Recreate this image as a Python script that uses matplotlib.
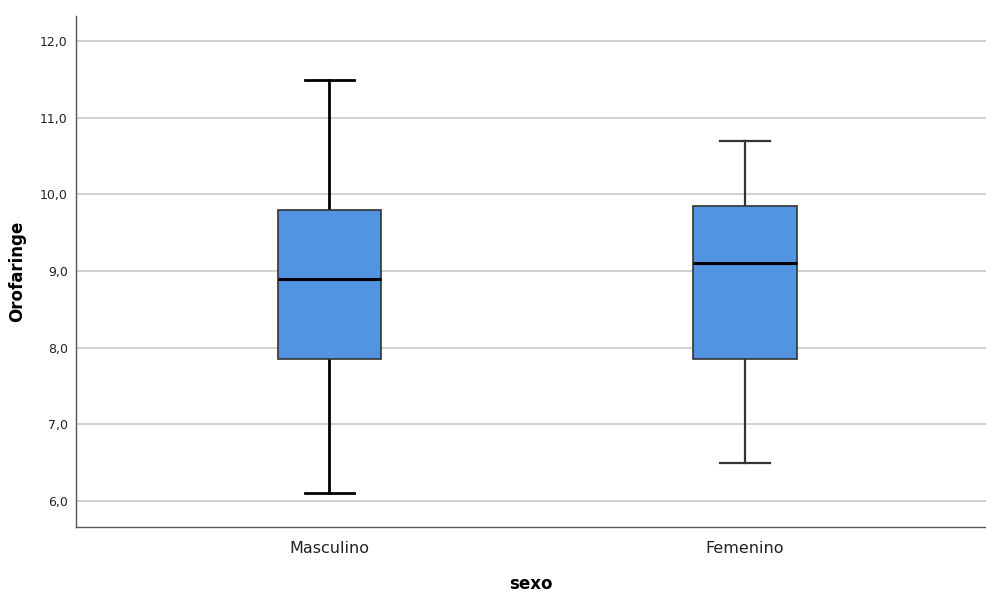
import matplotlib
matplotlib.use("Agg")
import matplotlib.pyplot as plt

categories = ["Masculino", "Femenino"]
whislo = [6.1, 6.5]
q1 = [7.85, 7.85]
med = [8.9, 9.1]
q3 = [9.8, 9.85]
whishi = [11.5, 10.7]
yticks = [6, 7, 8, 9, 10, 11, 12]

fig = plt.figure(figsize=(9.86, 5.92), dpi=100)
ax = fig.add_axes([0.0771, 0.1098, 0.9229, 0.8632])

stats = []
for i, name in enumerate(categories):
    stats.append({"label": name, "whislo": whislo[i], "q1": q1[i], "med": med[i],
                  "q3": q3[i], "whishi": whishi[i], "fliers": []})

lw = [2.0, 1.6]
colors = ["black", "#333333"]
for i, s in enumerate(stats):
    ax.bxp([s], positions=[i], widths=0.25, capwidths=0.12, patch_artist=True,
           showfliers=False,
           boxprops=dict(facecolor="#5294e2", edgecolor="#333333", linewidth=1.2, zorder=4),
           medianprops=dict(color="black", linewidth=2.2, zorder=5),
           whiskerprops=dict(color=colors[i], linewidth=lw[i], zorder=3),
           capprops=dict(color=colors[i], linewidth=lw[i], zorder=3))

ax.set_xlim(-0.61, 1.58)
ax.set_ylim(5.66, 12.33)
ax.set_yticks(yticks)
ax.set_yticklabels([f"{t:.1f}".replace(".", ",") for t in yticks], fontsize=9, color="#222222")
ax.set_xticks([0, 1])
ax.set_xticklabels(categories, fontsize=11.5, color="#222222")
ax.tick_params(axis="both", length=0, pad=6)
ax.tick_params(axis="x", pad=10)
ax.grid(axis="y", color="#c8c8c8", linewidth=1.2, zorder=0)
ax.set_axisbelow(True)

for side in ["top", "right"]:
    ax.spines[side].set_visible(False)
for side in ["left", "bottom"]:
    ax.spines[side].set_color("#555555")
    ax.spines[side].set_linewidth(1.0)

ax.set_ylabel("Orofaringe", fontsize=12, fontweight="bold", labelpad=10)
ax.set_xlabel("sexo", fontsize=12, fontweight="bold", labelpad=14)

fig.savefig("out.png", dpi=100)
